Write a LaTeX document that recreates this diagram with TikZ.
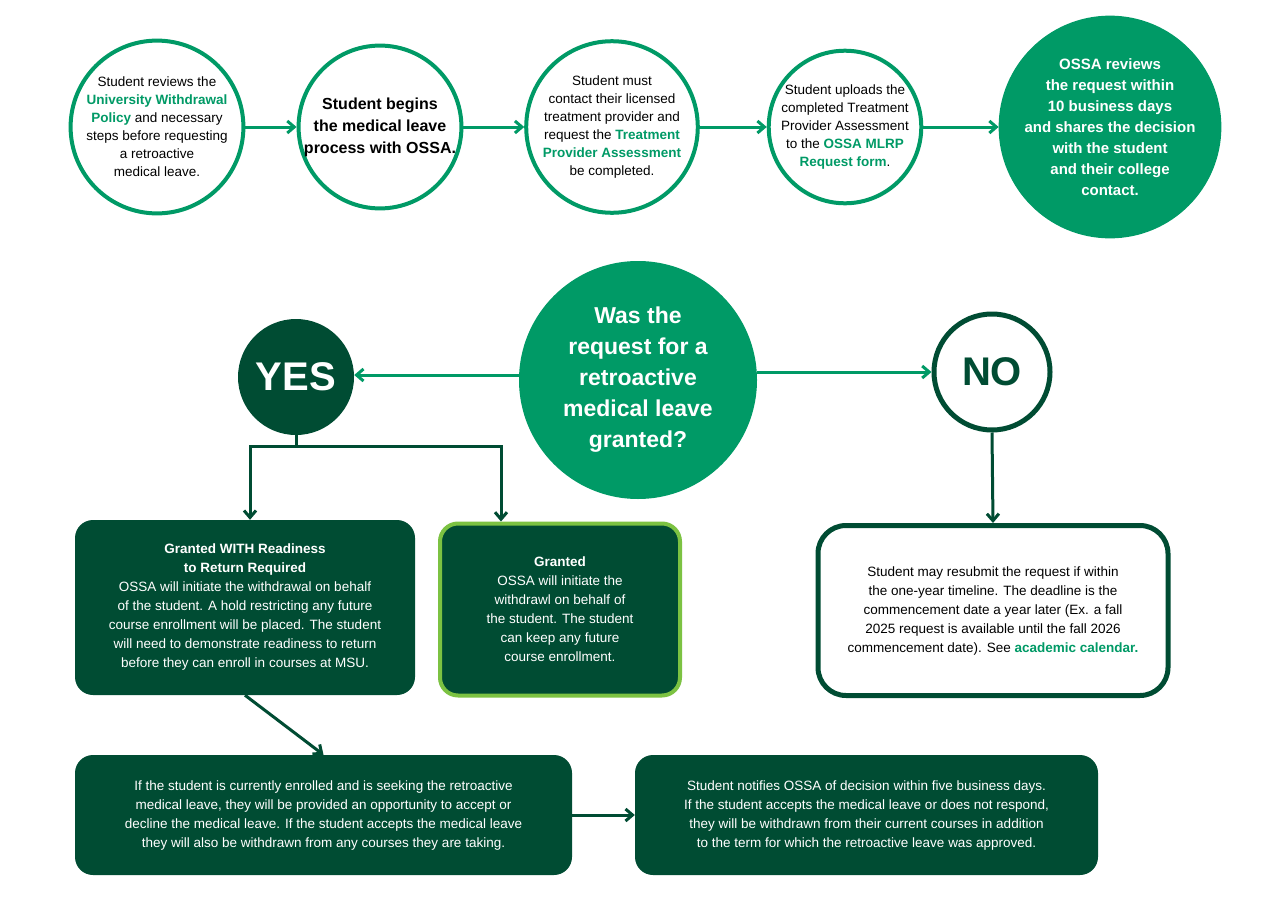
\documentclass[tikz,border=0pt]{standalone}
\usepackage{fontspec}
\setmainfont{Liberation Sans}
\usetikzlibrary{arrows.meta}
\definecolor{dg}{HTML}{004C33}
\definecolor{bg}{HTML}{009A66}
\definecolor{lg}{HTML}{7CC242}
\newcommand{\hl}[1]{\textcolor{bg}{\textbf{#1}}}
\begin{document}
\begin{tikzpicture}[x=1pt,y=-1pt,
 circ/.style={circle,draw=bg,line width=4pt,fill=white,minimum size=150pt,inner sep=0pt,align=center,font=\fontsize{13.5}{18}\selectfont},
 dbox/.style={rounded corners=18pt,fill=dg,text=white,align=center,font=\fontsize{13.5}{19}\selectfont},
 arr/.style={-{Straight Barb[length=7pt,width=12pt]},line width=3pt,draw=bg},
 darr/.style={-{Straight Barb[length=7pt,width=12pt]},line width=3pt,draw=dg}]
\path[fill=white] (0,0) rectangle (1275,921);
\node[circ] (c1) at (157,127) {Student reviews the\\\hl{University Withdrawal}\\\hl{Policy} and necessary\\steps before requesting\\a retroactive\\medical leave.};
\node[circ,font=\fontsize{16}{22}\selectfont\bfseries] (c2) at (380,127) {Student begins\\the medical leave\\process with OSSA.};
\node[circ] (c3) at (612,127) {Student must\\contact their licensed\\treatment provider and\\request the \hl{Treatment}\\\hl{Provider Assessment}\\be completed.};
\node[circ] (c4) at (845,127) {Student uploads the\\completed Treatment\\Provider Assessment\\to the \hl{OSSA MLRP}\\\hl{Request form}.};
\node[circ,fill=bg,text=white,font=\fontsize{15}{21}\selectfont\bfseries] (c5) at (1110,127) {OSSA reviews\\the request within\\10 business days\\and shares the decision\\with the student\\and their college\\contact.};
\draw[arr] (c1) -- (c2);
\draw[arr] (c2) -- (c3);
\draw[arr] (c3) -- (c4);
\draw[arr] (c4) -- (c5);
\node[circle,fill=bg,text=white,minimum size=238pt,inner sep=0pt,align=center,font=\fontsize{23}{31}\selectfont\bfseries] (q) at (638,380) {Was the\\request for a\\retroactive\\medical leave\\granted?};
\node[circle,fill=dg,text=white,minimum size=116pt,inner sep=0pt,font=\fontsize{40}{40}\selectfont\bfseries] (yes) at (296,377) {YES};
\node[circle,draw=dg,line width=5pt,fill=white,text=dg,minimum size=116pt,inner sep=0pt,font=\fontsize{40}{40}\selectfont\bfseries] (no) at (992,372) {NO};
\draw[arr] (q.west|-0,375) -- (yes.east|-0,375);
\draw[arr] (q.east|-0,372) -- (no.west);
\node[dbox,minimum width=340pt,minimum height=175pt] (b1) at (245,607.5) {\textbf{Granted WITH Readiness}\\\textbf{to Return Required}\\OSSA will initiate the withdrawal on behalf\\of the student. A hold restricting any future\\course enrollment will be placed. The student\\will need to demonstrate readiness to return\\before they can enroll in courses at MSU.};
\node[dbox,draw=lg,line width=4pt,minimum width=240pt,minimum height=172pt] (b2) at (560,609.5) {\textbf{Granted}\\OSSA will initiate the\\withdrawl on behalf of\\the student. The student\\can keep any future\\course enrollment.};
\node[dbox,fill=white,text=black,draw=dg,line width=5pt,rounded corners=28pt,minimum width=350pt,minimum height=170pt] (b3) at (993,610.5) {Student may resubmit the request if within\\the one-year timeline. The deadline is the\\commencement date a year later (Ex. a fall\\2025 request is available until the fall 2026\\commencement date). See \hl{academic calendar.}};
\coordinate (j) at (296,446);
\draw[line width=3pt,draw=dg] (yes.south) -- (j);
\draw[darr] (j) -| (b1.north-|250,0);
\draw[darr] (j) -| (b2.north-|501,0);
\draw[darr] (no.south) -- (b3.north);
\node[dbox,minimum width=497pt,minimum height=120pt] (b4) at (323.5,815) {If the student is currently enrolled and is seeking the retroactive\\medical leave, they will be provided an opportunity to accept or\\decline the medical leave. If the student accepts the medical leave\\they will also be withdrawn from any courses they are taking.};
\node[dbox,minimum width=463pt,minimum height=120pt] (b5) at (866.5,815) {Student notifies OSSA of decision within five business days.\\If the student accepts the medical leave or does not respond,\\they will be withdrawn from their current courses in addition\\to the term for which the retroactive leave was approved.};
\draw[darr] (b1.south) -- (b4.north);
\draw[darr] (b4) -- (b5);
\end{tikzpicture}
\end{document}
